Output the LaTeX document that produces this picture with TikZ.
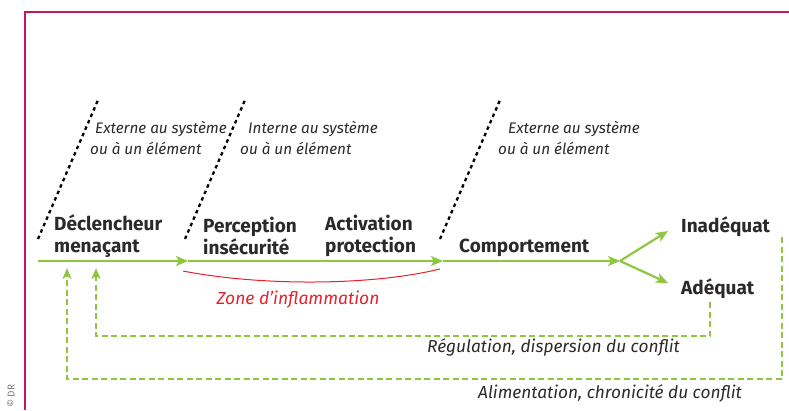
\documentclass[tikz,border=0pt]{standalone}
\usepackage{fontspec}
\setmainfont{Fira Sans}
\usetikzlibrary{arrows.meta}

\definecolor{flowgreen}{HTML}{8DC63F}
\definecolor{framered}{HTML}{C2185B}
\definecolor{zonered}{HTML}{E8202A}
\definecolor{inkgrey}{HTML}{2B2A29}

\tikzset{
  step label/.style = {
    anchor=west, align=left, text=inkgrey,
    font=\bfseries\fontsize{19}{22}\selectfont,
    inner sep=0pt
  },
  side label/.style = {
    anchor=west, align=left, text=inkgrey,
    font=\itshape\fontsize{15.3}{21}\selectfont,
    inner sep=0pt
  },
  loop label/.style = {
    anchor=west, text=inkgrey,
    font=\itshape\fontsize{17.3}{20}\selectfont,
    inner sep=0pt
  },
  flow/.style = {
    flowgreen, line width=2.2pt,
    -{Stealth[length=12pt,width=10pt,inset=3pt]}
  },
  feedback/.style = {
    flowgreen, line width=2pt, dash pattern=on 6pt off 3.5pt,
    -{Stealth[length=11pt,width=9pt,inset=3pt]}
  },
  boundary/.style = {
    black, line width=2.3pt, dash pattern=on 3.5pt off 3.5pt
  }
}

\begin{document}
\begin{tikzpicture}[x=1pt,y=-1pt]
\useasboundingbox (0,0) rectangle (789,410);

% --- Frame ---
\draw[framered, line width=1.3pt] (25,410) -- (25,12) -- (789,12);
\node[rotate=90, anchor=west, text=gray, font=\fontsize{10}{10}\selectfont, inner sep=0pt]
  (credit) at (11,408) {\textcopyright{} DR};

% --- System boundaries ---
\coordinate (b1 low) at (38,239);  \coordinate (b1 high) at (98,100);
\coordinate (b2 low) at (185,239); \coordinate (b2 high) at (245,100);
\coordinate (b3 low) at (440,239); \coordinate (b3 high) at (500,100);
\draw[boundary] (b1 low) -- (b1 high);
\draw[boundary] (b2 low) -- (b2 high);
\draw[boundary] (b3 low) -- (b3 high);

\node[side label] (ext1) at (90,137.5) {\hspace{5pt}Externe au système\\ou à un élément};
\node[side label] (int2) at (240,137.5) {\hspace{8pt}Interne au système\\ou à un élément};
\node[side label] (ext3) at (498,137.5) {\hspace{10pt}Externe au système\\ou à un élément};

% --- Steps ---
\node[step label] (trigger)    at (54,236)  {Déclencheur\\menaçant};
\node[step label] (perception) at (203,236) {Perception\\insécurité};
\node[step label] (activation) at (325,236) {Activation\\protection};
\node[step label] (behaviour)  at (459,248) {Comportement};
\node[step label] (inadequate) at (681,227) {Inadéquat};
\node[step label] (adequate)   at (681,289) {Adéquat};

% --- Main flow ---
\coordinate (start)  at (38,261);
\coordinate (in1)    at (188,261);
\coordinate (in2)    at (443,261);
\coordinate (fork)   at (620,261);
\coordinate (up)     at (668,231);
\coordinate (down)   at (668,283);
\draw[flow] (start) -- (in1);
\draw[flow] (in1) -- (in2);
\draw[flow] (in2) -- (fork);
\draw[flow] (fork) -- (up);
\draw[flow] (fork) -- (down);

% --- Inflammation zone ---
\coordinate (zone left)  at (183,271);
\coordinate (zone right) at (440,269);
\draw[zonered, line width=1pt] (zone left) .. controls (260,286) and (370,286) .. (zone right);
\node[text=zonered, font=\itshape\fontsize{17.5}{18}\selectfont, inner sep=0pt]
  (zone) at (298,300) {Zone d’inflammation};

% --- Feedback loops ---
\coordinate (reg top)    at (710,302);
\coordinate (reg corner) at (710,336);
\coordinate (reg back)   at (96,336);
\coordinate (reg end)    at (96,268);
\draw[feedback] (reg top) -- (reg corner) -- (reg back) -- (reg end);
\node[loop label] (regulation) at (427,347) {Régulation, dispersion du conflit};

\coordinate (ali top)    at (782,237);
\coordinate (ali corner) at (782,379);
\coordinate (ali back)   at (67,379);
\coordinate (ali end)    at (67,268);
\draw[feedback] (ali top) -- (ali corner) -- (ali back) -- (ali end);
\node[loop label] (feeding) at (478,393) {Alimentation, chronicité du conflit};

\end{tikzpicture}
\end{document}
